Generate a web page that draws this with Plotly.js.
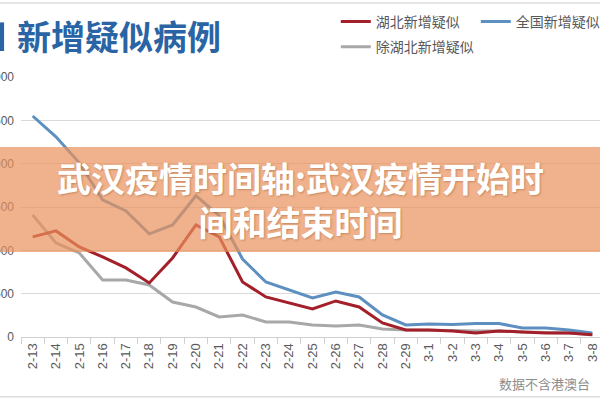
<!DOCTYPE html>
<html>
<head>
<meta charset="utf-8">
<script src="https://cdn.plot.ly/plotly-3.0.1.min.js"></script>
<style>
  html, body { margin: 0; padding: 0; width: 600px; height: 400px; overflow: hidden; background: #fff; }
  #chart { position: absolute; left: -30px; top: 0; width: 634px; height: 400px; }
</style>
</head>
<body>
<div id="chart"></div>
<script>
  // dates on the x axis
  const days = [
    "2-13", "2-14", "2-15", "2-16", "2-17", "2-18", "2-19", "2-20", "2-21",
    "2-22", "2-23", "2-24", "2-25", "2-26", "2-27", "2-28", "2-29",
    "3-1", "3-2", "3-3", "3-4", "3-5", "3-6", "3-7", "3-8",
  ];

  // values
  const hubei = [1155, 1224, 1040, 924, 797, 624, 912, 1293, 1155, 635, 462, 393, 323, 416, 346, 162, 81,
    81, 70, 45, 70, 58, 45, 45, 25];
  const national = [2550, 2310, 2010, 1582, 1455, 1190, 1293, 1630, 1400, 900, 635, 543, 450, 520, 462, 254, 139,
    150, 145, 155, 155, 104, 104, 81, 46];
  const otherProvinces = [1409, 1085, 970, 658, 658, 600, 404, 346, 231, 254, 173, 173, 139, 127, 139, 92, 81,
    81, 75, 70, 70, 58, 52, 46, 30];

  const seriesNames = ["湖北新增疑似", "全国新增疑似", "除湖北新增疑似"];
  const seriesColors = ["#a3202a", "#5d90c0", "#a8a8a8"];
  const yTicks = [0, 500, 1000, 1500, 2000, 2500, 3000];

  const fontFamily = "'Noto Sans CJK SC', 'Noto Sans', sans-serif";

  function lineTrace(values, i, legendId) {
    return {
      x: days,
      y: values,
      type: "scatter",
      mode: "lines",
      name: seriesNames[i],
      legend: legendId,
      line: { color: seriesColors[i], width: 3 },
      hoverinfo: "skip",
    };
  }

  const traces = [
    lineTrace(otherProvinces, 2, "legend2"),
    lineTrace(national, 1, "legend"),
    lineTrace(hubei, 0, "legend"),
  ];
  // legend order: red first, then blue
  traces[1].legendrank = 2;
  traces[2].legendrank = 1;

  const layout = {
    width: 634,
    height: 400,
    margin: { t: 77, r: 0, b: 63, l: 51 },
    paper_bgcolor: "#ffffff",
    plot_bgcolor: "#ffffff",
    font: { family: fontFamily, color: "#595959", size: 12 },
    showlegend: true,
    legend: {
      orientation: "h",
      xref: "container",
      yref: "container",
      x: 0.577,
      y: 0.985,
      xanchor: "left",
      yanchor: "top",
      entrywidth: 95,
      font: { size: 14, color: "#595959", family: fontFamily },
      bgcolor: "rgba(0,0,0,0)",
    },
    legend2: {
      orientation: "h",
      xref: "container",
      yref: "container",
      x: 0.577,
      y: 0.922,
      xanchor: "left",
      yanchor: "top",
      font: { size: 14, color: "#595959", family: fontFamily },
      bgcolor: "rgba(0,0,0,0)",
    },
    xaxis: {
      type: "category",
      tickangle: -90,
      tickfont: { size: 13, color: "#595959", family: "'Liberation Sans', sans-serif" },
      showgrid: false,
      showline: true,
      linecolor: "#d0d0d0",
      ticks: "outside",
      tickson: "boundaries",
      ticklen: 6,
      tickcolor: "#d0d0d0",
      range: [-0.5, 24.5],
      fixedrange: true,
    },
    yaxis: {
      range: [0, 3000],
      tickvals: yTicks,
      tickfont: { size: 12, color: "#595959", family: "'Liberation Sans', sans-serif" },
      showgrid: true,
      gridcolor: "#dadada",
      zeroline: false,
      showline: false,
      ticklabelstandoff: 6,
      fixedrange: true,
    },
    shapes: [
      // top and bottom frame lines
      { type: "line", xref: "paper", yref: "paper", x0: -0.1, x1: 1.1, y0: 1.285, y1: 1.285,
        line: { color: "#dcdcdc", width: 1.5 } },
      { type: "line", xref: "paper", yref: "paper", x0: -0.1, x1: 1.1, y0: -0.23, y1: -0.23,
        line: { color: "#dcdcdc", width: 1.5 } },
      // small blue marker left of the title
      { type: "rect", xref: "paper", yref: "paper", x0: -0.04, x1: -0.029, y0: 1.1, y1: 1.21,
        fillcolor: "#2a64a4", line: { width: 0 } },
      // orange banner over the chart
      { type: "rect", xref: "paper", yref: "paper", x0: -0.1, x1: 1.1, y0: 0.327, y1: 0.731,
        fillcolor: "rgba(234,145,91,0.7)", line: { width: 0 }, layer: "above" },
    ],
    annotations: [
      {
        text: "新增疑似病例",
        xref: "paper", yref: "paper",
        x: -0.01, y: 1.158,
        xanchor: "left", yanchor: "middle",
        showarrow: false,
        font: { size: 34, color: "#2a64a4", family: fontFamily, weight: 700 },
      },
      {
        text: "武汉疫情时间轴:武汉疫情开始时<br>间和结束时间",
        xref: "paper", yref: "paper",
        x: 0.48, y: 0.53,
        xanchor: "center", yanchor: "middle",
        showarrow: false,
        align: "center",
        font: { size: 34, color: "#ffffff", family: fontFamily, weight: 700,
          shadow: "1px 1px 2px rgba(120,60,20,0.35)" },
      },
      {
        text: "数据不含港澳台",
        xref: "paper", yref: "paper",
        x: 0.979, y: -0.18,
        xanchor: "right", yanchor: "middle",
        showarrow: false,
        font: { size: 13, color: "#8c8c8c", family: fontFamily },
      },
    ],
  };

  Plotly.newPlot("chart", traces, layout, { displayModeBar: false, staticPlot: true });
</script>
</body>
</html>
